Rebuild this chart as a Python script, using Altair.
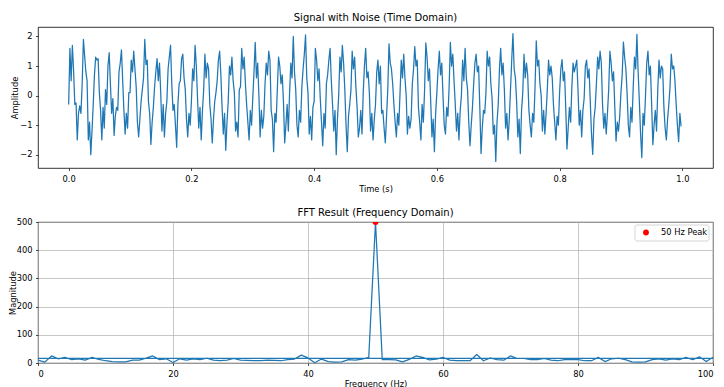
import altair as alt
import pandas as pd

# ---------------- data ----------------
# time-domain signal, sampled every 2 ms (10 samples per 50 Hz cycle)
sample_step = 0.002
signal = [
    -0.30, 1.60, 0.50, 1.70, 0.85, -0.30, -0.25, -1.50, -0.60, -0.35,
    -0.60, 0.40, 1.90, 1.35, 0.80, 0.50, -1.50, -0.90, -2.00, -1.20,
    -0.30, 0.70, 1.30, 1.20, 1.25, 0.10, -0.50, -1.50, -0.40, -1.10,
    0.20, -0.30, 1.00, 1.45, 0.40, -0.60, -0.10, -1.35, -0.70, -0.40,
    -0.50, 0.80, 1.10, 1.55, 0.50, -0.50, -1.30, -0.60, -1.10, 0.10,
    0.10, 1.20, 0.80, 1.50, 0.90, 0.30, -0.90, -1.40, -0.80, -0.20,
    0.20, 0.60, 1.90, 1.05, 1.20, -0.20, -0.60, -1.65, -0.90, -0.40,
    0.30, 0.80, 1.25, 0.50, 1.10, 0.10, -1.20, -0.30, -1.40, -0.60,
    -0.20, 0.90, 1.30, 1.70, 0.40, -0.50, -0.30, -1.00, -1.75, -0.30,
    0.40, 0.50, 1.25, 1.40, 0.60, 0.20, -0.80, -1.40, -0.60, -1.00,
    -0.20, 0.90, 0.50, 1.70, 1.00, -0.10, -1.10, -0.40, -1.50, -0.50,
    0.20, 1.40, 0.60, 1.10, 0.90, -0.30, -0.80, -1.60, -0.80, -0.20,
    0.10, 0.50, 1.20, 1.50, 0.70, -0.40, -1.30, -0.60, -1.85, -0.90,
    -0.20, 1.00, 0.70, 1.30, 0.50, 0.10, -1.20, -0.90, -1.40, 0.20,
    0.30, 1.60, 0.90, 1.30, 0.40, -0.30, -0.90, -1.50, -0.50, -1.00,
    -0.10, 0.80, 1.80, 0.60, 1.10, 0.00, -1.40, -0.50, -1.10, -0.70,
    0.40, 1.10, 0.70, 1.50, 1.20, -0.50, -0.80, -1.90, -0.60, -0.90,
    0.20, 1.30, 1.00, 0.40, 0.70, -0.20, -1.60, -1.00, -0.30, -1.20,
    0.10, 1.10, 0.60, 2.00, 0.80, 0.20, -1.00, -1.40, -0.50, -0.90,
    0.30, 0.90, 1.40, 2.05, 0.60, 0.10, -1.30, -0.70, -1.50, -0.40,
    -0.20, 1.60, 1.20, 0.50, 0.90, -0.10, -0.90, -1.70, -0.60, -1.10,
    0.40, 0.70, 1.20, 1.60, 0.50, -0.30, -1.20, -0.50, -2.00, -0.80,
    0.00, 1.30, 0.80, 1.70, 1.10, 0.20, -1.00, -1.90, -0.70, -0.30,
    0.20, 1.50, 0.90, 1.30, 0.30, -0.40, -1.40, -1.10, -0.50, -1.30,
    0.10, 1.00, 1.60, 0.60, 0.80, 0.10, -1.20, -0.60, -1.50, -0.80,
    -0.30, 0.80, 1.20, 0.40, 1.00, -0.60, -0.50, -1.10, -1.60, -0.70,
    0.20, 1.75, 1.10, 0.90, 0.40, -0.30, -0.90, -1.40, -0.60, -1.00,
    0.10, 1.20, 0.60, 1.40, 0.60, 0.00, -1.30, -0.70, -1.10, -0.80,
    0.40, 0.90, 1.66, 1.00, 1.20, -0.40, -0.90, -1.50, -0.30, -0.90,
    0.20, 1.78, 1.30, 0.50, 0.90, -0.20, -1.40, -0.80, -1.90, -0.60,
    0.10, 0.90, 1.50, 0.70, 1.10, 0.00, -1.00, -1.30, -0.40, -0.70,
    0.30, 1.80, 1.00, 1.40, 0.50, -0.30, -1.20, -0.60, -1.50, -0.50,
    0.00, 1.20, 0.50, 1.60, 0.60, 0.20, -0.90, -1.70, -1.00, -0.40,
    0.40, 1.10, 1.40, 0.80, 1.00, -0.40, -1.96, -1.10, -0.50, -0.60,
    0.10, 1.50, 1.00, 1.30, 0.40, -0.10, -1.30, -1.00, -2.23, -0.90,
    -0.30, 0.90, 1.60, 0.70, 1.10, 0.20, -1.10, -0.60, -1.50, -0.80,
    0.20, 1.20, 2.10, 0.90, 0.60, -0.20, -1.40, -0.80, -1.96, -0.50,
    0.10, 1.40, 0.60, 1.10, 0.70, -0.50, -1.00, -1.40, -0.60, -0.90,
    0.30, 1.85, 1.00, 1.20, 0.40, 0.00, -1.20, -0.50, -1.30, -0.60,
    0.20, 1.20, 0.70, 1.00, 0.60, -0.30, -0.90, -1.50, -0.70, -1.00,
    0.10, 0.90, 1.22, 0.50, 0.80, -0.40, -1.81, -1.10, -0.40, -0.90,
    0.30, 1.10, 0.80, 1.00, 1.20, 0.20, -1.00, -0.50, -1.40, -0.50,
    -0.10, 1.00, 1.20, 0.60, 0.90, -0.20, -1.30, -1.99, -0.80, -0.40,
    0.40, 1.30, 0.90, 1.50, 1.10, -0.30, -1.10, -0.60, -1.30, -0.60,
    0.20, 1.50, 1.10, 0.50, 0.80, -0.40, -1.54, -0.90, -1.20, -0.70,
    0.10, 0.70, 1.81, 1.30, 0.90, 0.10, -1.00, -1.40, -0.40, -0.90,
    0.30, 1.30, 0.90, 2.07, 0.80, -0.20, -1.30, -2.10, -0.60, -1.00,
    0.00, 1.10, 1.50, 0.70, 1.00, -0.30, -1.66, -1.00, -0.50, -1.20,
    0.20, 1.20, 0.60, 1.00, 0.90, -0.40, -1.10, -1.50, -0.80, -0.30,
    0.30, 1.40, 0.90, 1.00, 0.50, -0.30, -1.00, -1.56, -0.60, -1.04,
]

# FFT magnitude (plotted in numpy fftfreq order: 0..101 Hz, then the wrap to negative freqs)
fft_freq = list(range(0, 102)) + [499, -500, -499]
fft_mag = [
    10, 3, 25, 15, 20, 12, 15, 10, 20, 13,
    8, 5, 4, 4, 10, 10, 17, 25, 12, 15,
    2, 15, 10, 15, 12, 17, 10, 8, 10, 16,
    10, 9, 8, 8, 10, 9, 8, 12, 14, 28,
    18, 1, 14, 5, 3, 4, 12, 10, 14, 20,
    500, 12, 12, 11, 4, 13, 25, 20, 11, 14,
    20, 10, 8, 8, 8, 30, 8, 18, 12, 10,
    25, 16, 16, 12, 12, 16, 10, 8, 12, 12,
    12, 8, 8, 20, 5, 15, 17, 12, 4, 3,
    4, 12, 15, 10, 15, 12, 20, 12, 22, 5,
    20, 10,
    17, 16, 12,
]

peak_freq = [50]
peak_mag = [500]
peak_label = ["50 Hz Peak"]

# ---------------- tables ----------------
sig_df = pd.DataFrame({
    "i": list(range(len(signal))),
    "t": [k * sample_step for k in range(len(signal))],
    "amp": signal,
})
fft_df = pd.DataFrame({"i": list(range(len(fft_freq))), "f": fft_freq, "m": fft_mag})
peak_df = pd.DataFrame({"f": peak_freq, "m": peak_mag, "label": peak_label})

FONT = "DejaVu Sans"
BLUE = "#1f77b4"
minus_expr = "replace(datum.label, '-', '\u2212')"
W = 675
H = 141

top = alt.Chart(sig_df).mark_line(
    color=BLUE, strokeWidth=1.25, strokeJoin="round", clip=True
).encode(
    x=alt.X("t:Q",
            scale=alt.Scale(domain=[-0.05, 1.05], nice=False, zero=False),
            axis=alt.Axis(values=[0, 0.2, 0.4, 0.6, 0.8, 1.0], format=".1f",
                          title="Time (s)", grid=False)),
    y=alt.Y("amp:Q",
            scale=alt.Scale(domain=[-2.45, 2.32], nice=False, zero=False),
            axis=alt.Axis(values=[-2, -1, 0, 1, 2], title="Amplitude", grid=False,
                          labelExpr=minus_expr, titleX=-19)),
    order="i:Q",
).properties(width=W, height=H,
             title=alt.TitleParams("Signal with Noise (Time Domain)", offset=4))

fx = alt.X("f:Q",
           scale=alt.Scale(domain=[0, 100], nice=False, zero=False),
           axis=alt.Axis(values=[0, 20, 40, 60, 80, 100], title="Frequency (Hz)",
                         grid=True, labelOverlap=False))
fy = alt.Y("m:Q",
           scale=alt.Scale(domain=[0, 500], nice=False, zero=False),
           axis=alt.Axis(values=[0, 100, 200, 300, 400, 500], title="Magnitude",
                         grid=True, labelOverlap=False, titleX=-21))

fft_line = alt.Chart(fft_df).mark_line(
    color=BLUE, strokeWidth=1.25, strokeJoin="round", clip=True
).encode(x=fx, y=fy, order="i:Q")

peak = alt.Chart(peak_df).mark_point(
    filled=True, shape="circle", size=34, opacity=1, clip=True, color="#ff0000"
).encode(x=fx, y=fy)

# legend box drawn inside the plot (upper right), like matplotlib's
leg_box = alt.Chart(peak_df).mark_rect(
    fill="white", fillOpacity=0.8, stroke="#cccccc", strokeWidth=0.8, cornerRadius=2
).encode(x=alt.value(W - 78), x2=alt.value(W - 4), y=alt.value(3), y2=alt.value(19))
leg_dot = alt.Chart(peak_df).mark_point(
    filled=True, shape="circle", size=34, opacity=1, color="#ff0000"
).encode(x=alt.value(W - 67), y=alt.value(10.5))
leg_txt = alt.Chart(peak_df).mark_text(
    align="left", baseline="middle", font=FONT, fontSize=8.3, color="black"
).encode(x=alt.value(W - 52), y=alt.value(10.5), text="label:N")

bottom = alt.layer(fft_line, peak, leg_box, leg_dot, leg_txt).properties(
    width=W, height=H,
    title=alt.TitleParams("FFT Result (Frequency Domain)", offset=-1)
)

chart = alt.vconcat(top, bottom, spacing=14).properties(
    padding={"left": -1, "top": 4, "right": 0, "bottom": 0}
).configure_view(
    stroke="black", strokeWidth=0.8
).configure_axis(
    labelFont=FONT, labelFontSize=8.3, labelColor="black",
    titleFont=FONT, titleFontSize=8.3, titleFontWeight="normal", titleColor="black",
    tickColor="black", tickSize=2.5, tickWidth=0.7, labelPadding=3.5, titlePadding=2,
    domain=False, gridColor="#b0b0b0", gridWidth=0.7,
).configure_title(
    font=FONT, fontSize=10, fontWeight="normal", color="black", anchor="middle"
)

chart.save("out.html", embed_options={"renderer": "svg", "actions": False})
